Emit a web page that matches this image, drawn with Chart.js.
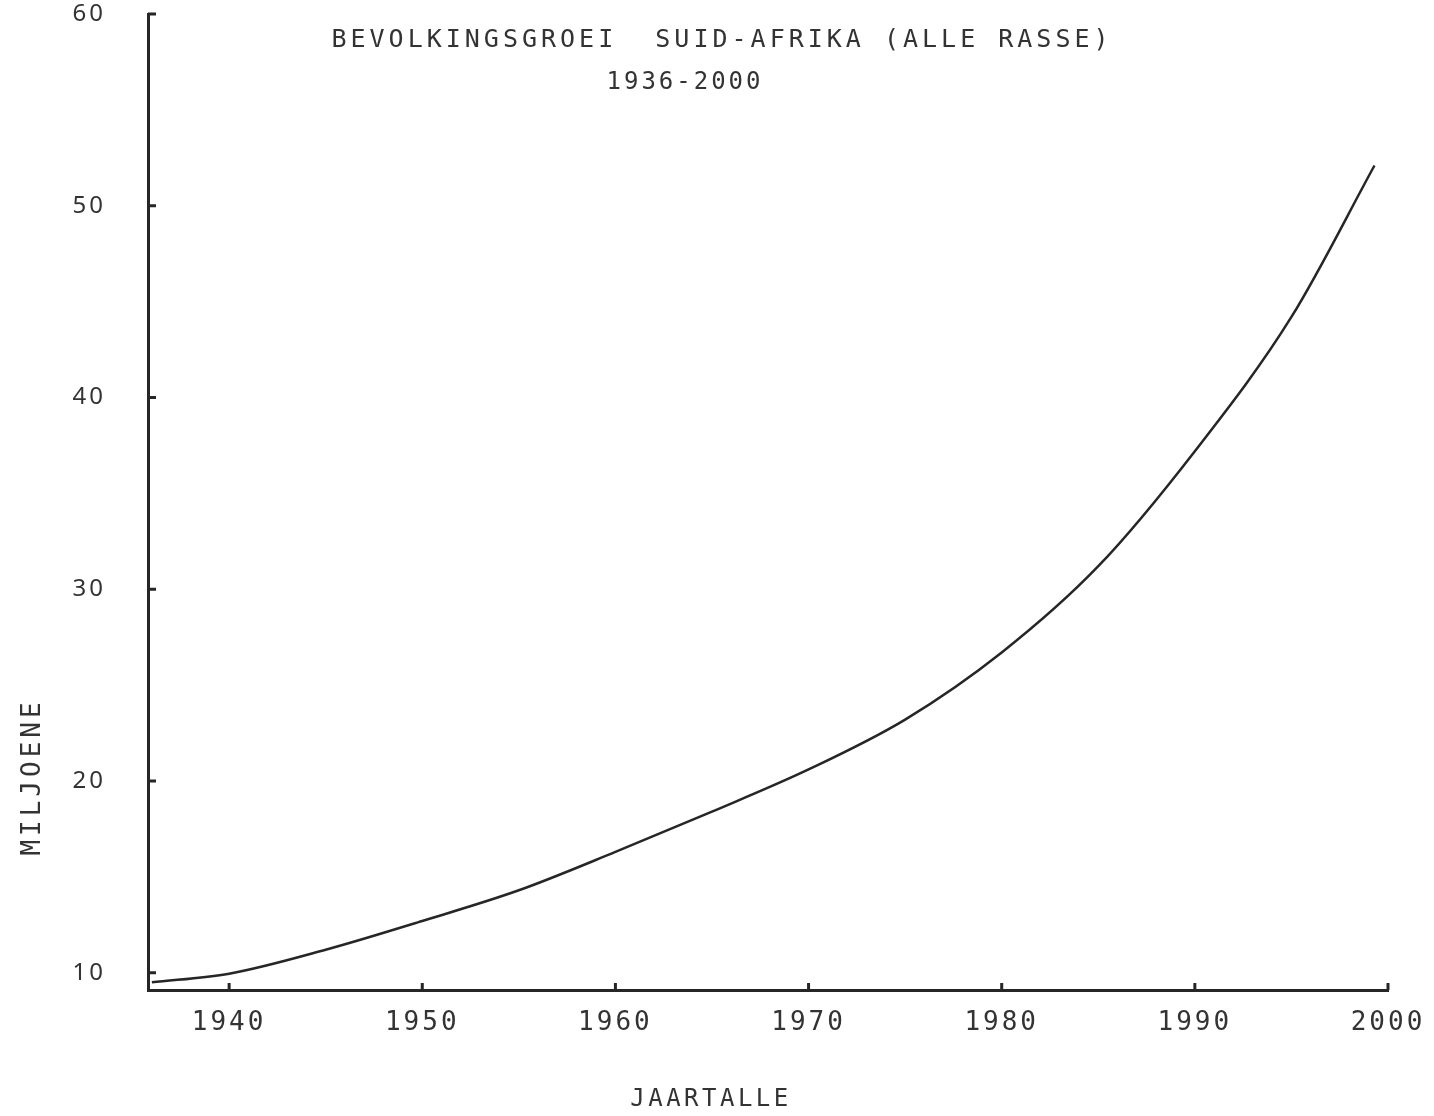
<!DOCTYPE html>
<html>
<head>
<meta charset="utf-8">
<script src="https://cdn.jsdelivr.net/npm/chart.js@4.4.1/dist/chart.umd.min.js"></script>
<style>
  html, body { margin: 0; padding: 0; background: #fff; }
  canvas { display: block; }
</style>
</head>
<body>
<canvas id="groei" width="1434" height="1116"></canvas>
<script>
// jaartalle en bevolking (miljoene), afgelees van die kurwe
let years = [1936, 1940, 1945, 1950, 1955, 1960, 1965, 1970, 1975, 1980, 1985, 1990, 1995, 1999.3];
let population = [9.5, 9.95, 11.2, 12.7, 14.3, 16.3, 18.4, 20.6, 23.2, 26.7, 31.2, 37.2, 44.2, 52.1];
let yearTicks = [1940, 1950, 1960, 1970, 1980, 1990, 2000];
let millionTicks = [10, 20, 30, 40, 50, 60];

let titleText = 'BEVOLKINGSGROEI  SUID-AFRIKA (ALLE RASSE)';
let subtitleText = '1936-2000';
let xTitle = 'JAARTALLE';
let yTitle = 'MILJOENE';

let ink = '#262626';
let mono = '"DejaVu Sans Mono", monospace';

let points = years.map((y, i) => ({ x: y, y: population[i] }));

// tikmerke wys na binne, soos op die oorspronklike
let innerTicks = {
  id: 'innerTicks',
  beforeUpdate(chart) { chart.ctx.letterSpacing = '3px'; },
  beforeDraw(chart) { chart.ctx.letterSpacing = '3px'; },
  afterDraw(chart) {
    let ctx = chart.ctx;
    let xs = chart.scales.x, ys = chart.scales.y;
    let area = chart.chartArea;
    ctx.save();
    ctx.strokeStyle = ink;
    ctx.lineWidth = 3;
    ctx.beginPath();
    xs.ticks.forEach(t => {
      let px = xs.getPixelForValue(t.value);
      ctx.moveTo(px, area.bottom);
      ctx.lineTo(px, area.bottom - 7);
    });
    ys.ticks.forEach(t => {
      let py = ys.getPixelForValue(t.value);
      ctx.moveTo(area.left, py);
      ctx.lineTo(area.left + 8, py);
    });
    ctx.stroke();

    ctx.fillStyle = '#333';
    ctx.textAlign = 'center';
    ctx.textBaseline = 'middle';
    ctx.font = '25px ' + mono;
    ctx.letterSpacing = '4px';
    ctx.fillText(titleText, 722, 40);
    ctx.font = '24px ' + mono;
    ctx.letterSpacing = '3px';
    ctx.fillText(subtitleText, 685, 83);
    ctx.font = '24px ' + mono;
    ctx.letterSpacing = '3.5px';
    ctx.fillText(xTitle, 711, 1100);

    ctx.translate(33, 779);
    ctx.rotate(-Math.PI / 2);
    ctx.font = '26px ' + mono;
    ctx.letterSpacing = '4px';
    ctx.fillText(yTitle, 2, 0);
    ctx.restore();
    ctx.letterSpacing = '3px';
  }
};

let ctx = document.getElementById('groei').getContext('2d');

let groeiChart = new Chart(ctx, {
  type: 'line',
  data: {
    datasets: [{
      data: points,
      borderColor: ink,
      borderWidth: 2.5,
      pointRadius: 0,
      fill: false,
      cubicInterpolationMode: 'monotone'
    }]
  },
  options: {
    responsive: false,
    animation: false,
    layout: { padding: { top: 14, right: 46, bottom: 0, left: 0 } },
    plugins: {
      legend: { display: false },
      tooltip: { enabled: false }
    },
    scales: {
      x: {
        type: 'linear',
        min: 1935.8,
        max: 2000,
        afterBuildTicks: (scale) => { scale.ticks = yearTicks.map(v => ({ value: v })); },
        afterFit: (scale) => {
          scale.height = 126;
          scale.paddingLeft = 0;
          scale.paddingRight = 0;
        },
        grid: { display: false, drawTicks: false },
        border: { display: true, color: ink, width: 3 },
        ticks: {
          includeBounds: false,
          padding: 18,
          color: '#333',
          font: { family: mono, size: 26 },
          callback: (v) => String(v)
        }
      },
      y: {
        min: 9.1,
        max: 60,
        afterBuildTicks: (scale) => { scale.ticks = millionTicks.map(v => ({ value: v })); },
        afterFit: (scale) => {
          scale.width = 148;
          scale.paddingTop = 0;
          scale.paddingBottom = 0;
        },
        grid: { display: false, drawTicks: false },
        border: { display: true, color: ink, width: 3 },
        ticks: {
          includeBounds: false,
          padding: 42,
          color: '#333',
          font: { family: '"Noto Sans", sans-serif', size: 24 },
          callback: (v) => String(v)
        }
      }
    }
  },
  plugins: [innerTicks]
});
</script>
</body>
</html>
